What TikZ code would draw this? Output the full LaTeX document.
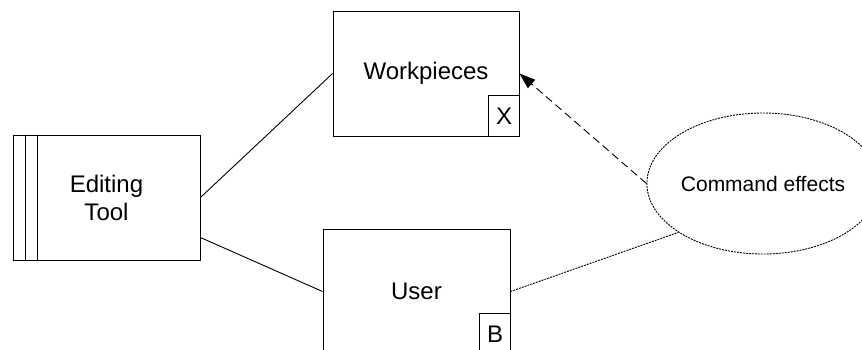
\documentclass[tikz,border=0pt]{standalone}
\usepackage{fontspec}
\setmainfont{Liberation Sans}
\usetikzlibrary{shapes.geometric,arrows.meta}

\begin{document}
\begin{tikzpicture}[x=1pt,y=-1pt,line width=0.9pt,
    box/.style={draw,minimum width=187pt,minimum height=125pt,inner sep=0pt,
                font=\fontsize{24}{28}\selectfont,align=center},
    tagbox/.style={minimum width=30pt,minimum height=40pt,inner sep=0pt,
                font=\fontsize{24}{28}\selectfont},
    cloud/.style={ellipse,draw,dash pattern=on 2pt off 1pt,minimum width=200pt,
                minimum height=141pt,inner sep=0pt,font=\fontsize{21}{25}\selectfont},
    effect/.style={dash pattern=on 8pt off 4.5pt,-{Triangle[length=16pt,width=11pt]}},
    weak/.style={dash pattern=on 2pt off 1pt}]
  \useasboundingbox (0,0) rectangle (862,349);
  % Draw tool box with its side strip
  \node[box] (EditingTool) at (106.5,197.5) {Editing\\Tool};
  \draw ([xshift=13pt]EditingTool.north west) -- ([xshift=13pt]EditingTool.south west);
  \draw ([xshift=25pt]EditingTool.north west) -- ([xshift=25pt]EditingTool.south west);
  % Draw workpieces box (X)
  \node[box,minimum width=186pt] (Workpieces) at (426,73.5) {Workpieces};
  \node[tagbox,anchor=south east] (WorkpiecesTag) at (Workpieces.south east) {X};
  \draw (WorkpiecesTag.south west) -- (WorkpiecesTag.north west) -- (WorkpiecesTag.north east);
  % Draw user box (B)
  \node[box] (User) at (416.5,291.5) {User};
  \node[tagbox,anchor=south east] (UserTag) at (User.south east) {B};
  \draw (UserTag.south west) -- (UserTag.north west) -- (UserTag.north east);
  % Draw effects ellipse
  \node[cloud] (CommandEffects) at (763,183.5) {Command effects};
  % Connections
  \draw (EditingTool.east) -- (Workpieces.west);
  \draw ([yshift=-40pt]EditingTool.east) -- (User.west);
  \draw[effect] (CommandEffects.west) -- (Workpieces.east);
  \draw[weak] (User.east) -- (CommandEffects.210);
\end{tikzpicture}
\end{document}
